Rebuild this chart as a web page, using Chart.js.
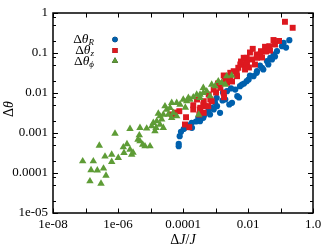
<!DOCTYPE html>
<html><head><meta charset="utf-8">
<script src="https://cdn.jsdelivr.net/npm/chart.js@4"></script>
<style>html,body{margin:0;padding:0;background:#fff;}#wrap{width:334px;height:249px;position:relative;}</style>
</head><body><div id="wrap"><canvas id="c"></canvas></div>
<script>
// ---- data ----
const xTickValues = [1e-8,1e-7,1e-6,1e-5,1e-4,1e-3,1e-2,1e-1,1];
const xTickLabels = ["1e-08","","1e-06","","0.0001","","0.01","","1.0"];
const yTickValues = [1e-5,1e-4,1e-3,1e-2,1e-1,1];
const yTickLabels = ["1e-05","0.0001","0.001","0.01","0.1","1"];
const yMinorTicks = [2e-5,5e-5,8e-5,2e-4,5e-4,8e-4,2e-3,5e-3,8e-3,2e-2,5e-2,8e-2,0.2,0.5,0.8];

const seriesNames = ["R","z","ϕ"];

const dR_x = [0.187,0.125,0.111,0.078,0.0618,0.0677,0.0485,0.0384,0.0422,0.027,0.0296,0.0189,0.0185,0.0148,0.0105,0.00912,0.00754,0.00653,0.00567,0.00406,0.003,0.00226,0.00469,0.00322,0.00266,0.002,0.00138,0.00109,0.000966,0.00111,0.000764,0.000881,0.0006,0.000422,0.000334,0.000296,0.000185,0.000164,0.000115,0.000105,8.67e-5,7.91e-5,7.38e-5,7.38e-5,0.000189,0.000443,0.00164,0.00528,0.000251,0.000133,0.0115,0.0234,0.0547,0.148,0.0017,0.000678];
const dR_y = [0.209,0.18,0.148,0.111,0.0917,0.0818,0.0759,0.0624,0.0516,0.0427,0.0387,0.0351,0.032,0.0263,0.0218,0.0197,0.0173,0.0163,0.0148,0.0122,0.013,0.0111,0.00832,0.00569,0.00516,0.00688,0.0032,0.00759,0.00569,0.00468,0.00427,0.00387,0.00351,0.0024,0.00197,0.0024,0.0018,0.0014,0.00135,0.00126,0.00107,0.000832,0.000537,0.000468,0.00135,0.00274,0.00649,0.00772,0.00194,0.00158,0.0274,0.0487,0.0688,0.137,0.0103,0.0029];

const dz_x = [0.137,0.237,0.014,0.0609,0.09,0.0334,0.0452,0.0251,0.0185,0.00912,0.00754,0.00503,0.00449,0.00196,0.00279,0.00183,0.000764,0.0006,0.000422,0.000318,0.000207,0.000124,7.69e-5,5.67e-5,0.000156,0.000115,0.000207,0.000334,0.0133,0.0239,0.0189,0.00931,0.00738,0.00579,0.00363,0.00459,0.00285,0.002,0.00179,0.00226,0.00141,0.00179,0.000881,0.000618,0.000692,0.000434,0.000485,0.00034,0.00027,0.000434,4.59e-5,0.0115,0.0164,0.00809,0.00322,0.00104,0.00119,0.00609,0.027,0.0358,0.0475,0.0677,0.0107];
const dz_y = [0.603,0.427,0.127,0.211,0.2,0.143,0.148,0.111,0.0917,0.0759,0.0516,0.0427,0.032,0.0263,0.024,0.00785,0.00624,0.00468,0.00516,0.0029,0.00387,0.00248,0.00351,0.00325,0.0014,0.00163,0.00495,0.00387,0.0688,0.0917,0.0759,0.0569,0.0759,0.0516,0.0351,0.0263,0.032,0.0218,0.0274,0.018,0.0135,0.0101,0.0122,0.00917,0.00688,0.00624,0.00468,0.00427,0.00688,0.0032,0.0029,0.103,0.0516,0.0387,0.0194,0.0103,0.0173,0.0613,0.0772,0.109,0.115,0.163,0.0434];

const dphi_x = [8.2e-8,1.74e-7,1.48e-7,2.31e-7,3.58e-7,4.27e-7,1.37e-7,3.0e-7,2.66e-7,3.98e-7,6.4e-7,6.4e-7,1.02e-6,8.09e-7,1.46e-6,1.53e-6,1.89e-6,2.34e-6,2.64e-6,2.9e-6,2.34e-6,4.75e-6,7.64e-6,4.52e-6,4.75e-6,5.75e-6,6.77e-6,9.66e-6,4.12e-6,1.22e-5,1.48e-5,1.37e-5,1.96e-5,2.21e-5,2.48e-5,1.96e-5,3.15e-5,3.53e-5,4.49e-5,5.03e-5,6.4e-5,8.09e-5,4.49e-5,6.4e-5,1.02e-4,1.3e-4,1.64e-4,2.64e-4,3.34e-4,4.22e-4,3.15e-3,2.21e-3,1.22e-3,1.55e-3,9.66e-4,7.64e-4,4.22e-4,3.34e-4,2.07e-4,1.46e-4,2.79e-5,2.48e-5,1.55e-5,3.04e-4,6.78e-4,1.18e-4,5.36e-4,2.0e-3,3.98e-5,1.09e-5,1.74e-5];
const dphi_y = [1.97e-4,1.97e-4,1.19e-4,1.17e-4,1.30e-4,8.66e-5,6.24e-5,5.46e-5,4.87e-4,2.59e-4,2.90e-4,1.91e-4,2.40e-4,9.7e-4,4.42e-4,3.2e-4,5.31e-4,3.87e-4,2.90e-4,3.25e-4,1.27e-3,1.35e-3,1.3e-3,8.8e-4,6.24e-4,5.16e-4,4.68e-4,4.68e-4,6.88e-4,1.8e-3,1.35e-3,1.11e-3,2.63e-3,2.18e-3,1.35e-3,1.63e-3,3.87e-3,2.9e-3,2.4e-3,3.2e-3,2.63e-3,5.16e-3,5.69e-3,5.69e-3,6.88e-3,6.24e-3,6.88e-3,9.17e-3,7.59e-3,1.01e-2,2.74e-2,2.63e-2,1.97e-2,1.8e-2,1.48e-2,1.63e-2,1.35e-2,9.17e-3,7.85e-3,7.59e-3,4.68e-3,2.9e-3,1.97e-3,2.9e-3,8.32e-3,4.34e-3,1.11e-2,1.63e-2,4.27e-3,1.48e-3,3.07e-3];

// ---- styles ----
const colors = ["#0060ad","#dd181f","#5e9c36"];
const shapes = ["circle","rect","triangle"];
const radii = [3.1,4.2,4.3];
const FONT = '"Liberation Serif","DejaVu Serif",serif';

const toPts = (xs, ys) => xs.map((x,i)=>({x:x, y:ys[i]}));
const sets = [toPts(dR_x,dR_y), toPts(dz_x,dz_y), toPts(dphi_x,dphi_y)];

function drawMath(ctx, segs, x, y, align) {
  let w = 0;
  segs.forEach(s=>{ ctx.font = (s.it?'italic ':'')+s.size+'px '+FONT; s.w = ctx.measureText(s.t).width; w += s.w; });
  let cx = align==='right' ? x - w : (align==='center' ? x - w/2 : x);
  segs.forEach(s=>{ ctx.font = (s.it?'italic ':'')+s.size+'px '+FONT; ctx.fillText(s.t, cx, y + (s.dy||0)); cx += s.w; });
}

const framePlugin = {
  id:'frame',
  afterDatasetsDraw(chart){
    const ctx = chart.ctx, a = chart.chartArea;
    const xs = chart.scales.x, ys = chart.scales.y;
    ctx.save();
    ctx.strokeStyle = '#000';
    ctx.lineWidth = 1;
    ctx.beginPath();
    xTickValues.forEach(v=>{
      const p = Math.round(xs.getPixelForValue(v))+0.5;
      ctx.moveTo(p,a.bottom); ctx.lineTo(p,a.bottom-4.5);
      ctx.moveTo(p,a.top); ctx.lineTo(p,a.top+4.5);
    });
    yTickValues.forEach(v=>{
      const p = Math.round(ys.getPixelForValue(v))+0.5;
      ctx.moveTo(a.left,p); ctx.lineTo(a.left+5,p);
      ctx.moveTo(a.right,p); ctx.lineTo(a.right-5,p);
    });
    yMinorTicks.forEach(v=>{
      const p = Math.round(ys.getPixelForValue(v))+0.5;
      ctx.moveTo(a.left,p); ctx.lineTo(a.left+3,p);
      ctx.moveTo(a.right,p); ctx.lineTo(a.right-3,p);
    });
    ctx.stroke();
    ctx.lineWidth = 1.5;
    ctx.strokeRect(a.left, a.top, a.right-a.left, a.bottom-a.top);

    // legend
    ctx.fillStyle = '#000';
    ctx.textBaseline = 'middle';
    const rowsY = [a.top+26.5, a.top+37.5, a.top+48];
    sets.forEach((d,i)=>{
      drawMath(ctx, [{t:'Δ',size:13.5},{t:'θ',size:13.5,it:true},{t:seriesNames[i],size:9,it:true,dy:3.5}], a.left+41, rowsY[i], 'right');
      Chart.helpers.drawPoint(ctx, {pointStyle:shapes[i], radius:radii[i]*0.85, rotation:0, borderWidth:0}, a.left+62, rowsY[i]);
      ctx.fillStyle = colors[i];
      ctx.fill();
      ctx.fillStyle = '#000';
    });

    // axis titles
    ctx.textBaseline = 'middle';
    drawMath(ctx, [{t:'Δ',size:14},{t:'J',size:14,it:true},{t:'/',size:14},{t:'J',size:14,it:true}], (a.left+a.right)/2, 240, 'center');
    ctx.save();
    ctx.translate(9, (a.top+a.bottom)/2 - 4);
    ctx.rotate(-Math.PI/2);
    drawMath(ctx, [{t:'Δ',size:14},{t:'θ',size:14,it:true}], 0, 0, 'center');
    ctx.restore();
    ctx.restore();
  }
};

new Chart(document.getElementById('c'), {
  type:'scatter',
  data:{
    datasets: sets.map((d,i)=>({
      label:'Δθ'+seriesNames[i],
      data:d,
      pointStyle:shapes[i],
      pointRadius:radii[i],
      pointHoverRadius:radii[i],
      backgroundColor:colors[i],
      borderColor:colors[i],
      borderWidth:0,
      order:3-i
    }))
  },
  options:{
    responsive:true, maintainAspectRatio:false, animation:false,
    devicePixelRatio:1,
    layout:{padding:{left:0,top:13,right:21,bottom:0}},
    plugins:{legend:{display:false}, tooltip:{enabled:false}},
    scales:{
      x:{type:'logarithmic', min:1e-8, max:1,
        grid:{display:false, drawTicks:false}, border:{display:false},
        afterBuildTicks:s=>{ s.ticks = xTickValues.map(v=>({value:v})); },
        afterFit:s=>{ s.height = 36; },
        ticks:{autoSkip:false, maxRotation:0, padding:4, color:'#000', font:{family:FONT, size:13},
          callback:(v,i)=>xTickLabels[i]}
      },
      y:{type:'logarithmic', min:1e-5, max:1,
        grid:{display:false, drawTicks:false}, border:{display:false},
        afterBuildTicks:s=>{ s.ticks = yTickValues.map(v=>({value:v})); },
        afterFit:s=>{ s.width = 53; },
        ticks:{autoSkip:false, padding:5, color:'#000', font:{family:FONT, size:13},
          callback:(v,i)=>yTickLabels[i]}
      }
    }
  },
  plugins:[framePlugin]
});
</script></body></html>
